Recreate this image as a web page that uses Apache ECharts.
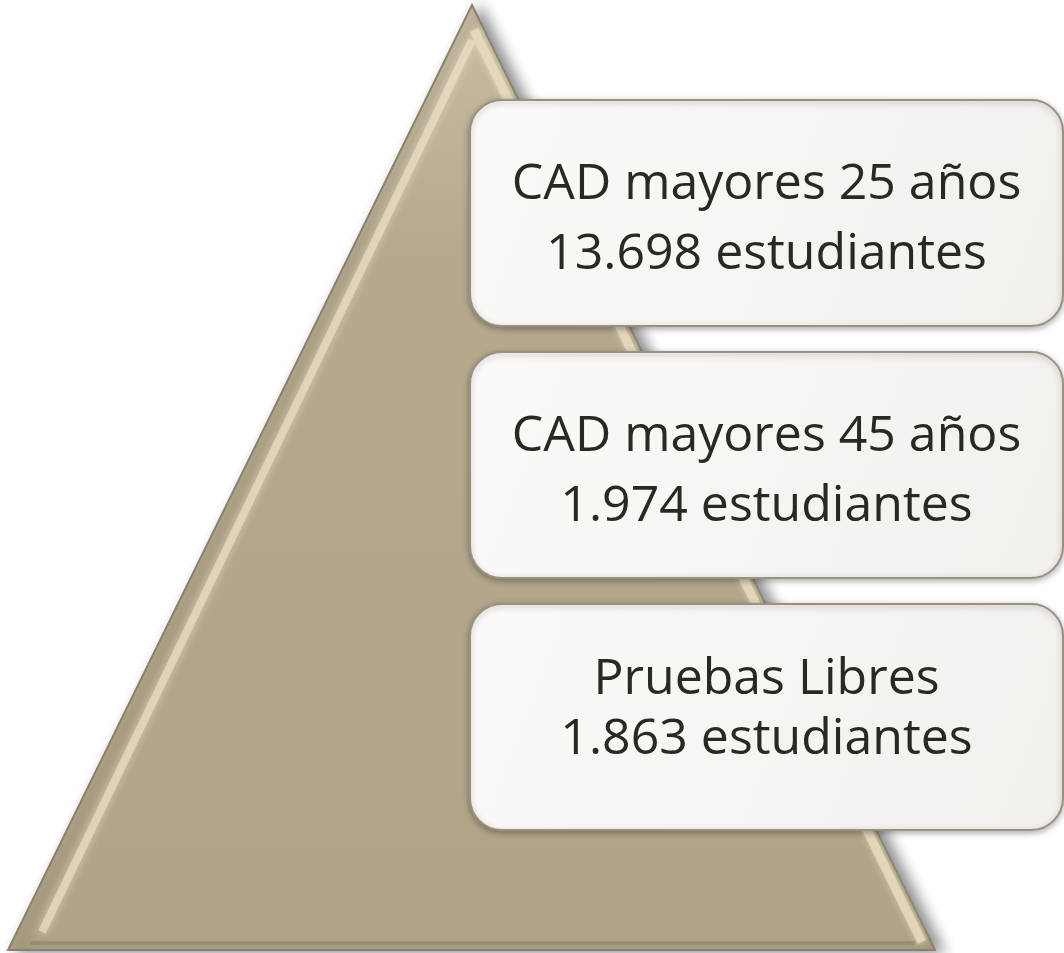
<!DOCTYPE html>
<html>
<head>
<meta charset="utf-8">
<script src="https://cdn.jsdelivr.net/npm/echarts@6/dist/echarts.min.js"></script>
<style>
  html, body { margin: 0; padding: 0; background: #fff; }
  #main { width: 1064px; height: 953px; }
</style>
</head>
<body>
<div id="main"></div>
<script>
// datos
var grupos = ['CAD mayores 25 años', 'CAD mayores 45 años', 'Pruebas Libres'];
var estudiantes = ['13.698', '1.974', '1.863'];

var mychart = echarts.init(document.getElementById('main'));

// layout de las cajas (top, alto, centro del texto, interlineado)
var cajaTop = [100, 352, 604];
var cajaAlto = 226;
var textoCentro = [120, 120, 106];
var interlinea = [70, 70, 60];

var datos = grupos.map(function(g, i) {
    return { name: g, value: [i, estudiantes[i]] };
});

var option = {
    backgroundColor: '#fff',
    animation: false,
    series: [{
        // piramide
        type: 'custom',
        coordinateSystem: 'none',
        silent: true,
        z: 1,
        data: [0],
        renderItem: function(params, api) {
            var apex = [472, 5], bl = [8, 950], br = [935, 950];
            return {
                type: 'group',
                children: [{
                    type: 'polygon',
                    shape: { points: [apex, br, bl] },
                    style: {
                        fill: {
                            type: 'linear', x: 0, y: 0, x2: 0, y2: 1,
                            colorStops: [
                                { offset: 0, color: '#c9bda3' },
                                { offset: 0.25, color: '#b6a98e' },
                                { offset: 1, color: '#b0a388' }
                            ]
                        },
                        stroke: '#8a8070',
                        lineWidth: 2,
                        shadowBlur: 14,
                        shadowOffsetX: 8,
                        shadowOffsetY: 2,
                        shadowColor: 'rgba(0,0,0,0.45)'
                    }
                }, {
                    // brillo borde izquierdo
                    type: 'polyline',
                    shape: { points: [[472, 40], [42, 932]] },
                    style: {
                        stroke: 'rgba(240,228,200,0.6)',
                        lineWidth: 8,
                        shadowBlur: 10,
                        shadowColor: 'rgba(255,248,225,0.8)'
                    }
                }, {
                    // brillo borde derecho
                    type: 'polyline',
                    shape: { points: [[474, 30], [922, 942]] },
                    style: {
                        stroke: 'rgba(232,218,190,0.8)',
                        lineWidth: 9,
                        shadowBlur: 6,
                        shadowColor: 'rgba(250,240,215,0.7)'
                    }
                }, {
                    // sombra base
                    type: 'polyline',
                    shape: { points: [[30, 943], [915, 943]] },
                    style: { stroke: 'rgba(120,110,95,0.35)', lineWidth: 4 }
                }]
            };
        }
    }, {
        // cajas
        type: 'custom',
        coordinateSystem: 'none',
        silent: true,
        z: 2,
        data: datos,
        renderItem: function(params, api) {
            var i = api.value(0);
            var top = cajaTop[i];
            var x = 470, w = 593;
            var cy = top + textoCentro[i];
            var gap = interlinea[i];
            return {
                type: 'group',
                children: [{
                    type: 'rect',
                    shape: { x: x, y: top, width: w, height: cajaAlto, r: 32 },
                    style: {
                        fill: {
                            type: 'linear', x: 0, y: 0, x2: 1, y2: 1,
                            colorStops: [
                                { offset: 0, color: '#fbfaf8' },
                                { offset: 1, color: '#f1f0ed' }
                            ]
                        },
                        stroke: '#9b917f',
                        lineWidth: 2,
                        shadowBlur: 6,
                        shadowOffsetY: 2,
                        shadowColor: 'rgba(0,0,0,0.3)'
                    }
                }, {
                    type: 'text',
                    style: {
                        x: x + w / 2, y: cy - gap / 2,
                        text: grupos[i],
                        align: 'center', verticalAlign: 'middle',
                        fontFamily: 'Open Sans', fontSize: 50,
                        fill: '#2a2821'
                    }
                }, {
                    type: 'text',
                    style: {
                        x: x + w / 2, y: cy + gap / 2,
                        text: estudiantes[i] + ' estudiantes',
                        align: 'center', verticalAlign: 'middle',
                        fontFamily: 'Open Sans', fontSize: 50,
                        fill: '#2a2821'
                    }
                }]
            };
        }
    }]
};

mychart.setOption(option);
</script>
</body>
</html>
